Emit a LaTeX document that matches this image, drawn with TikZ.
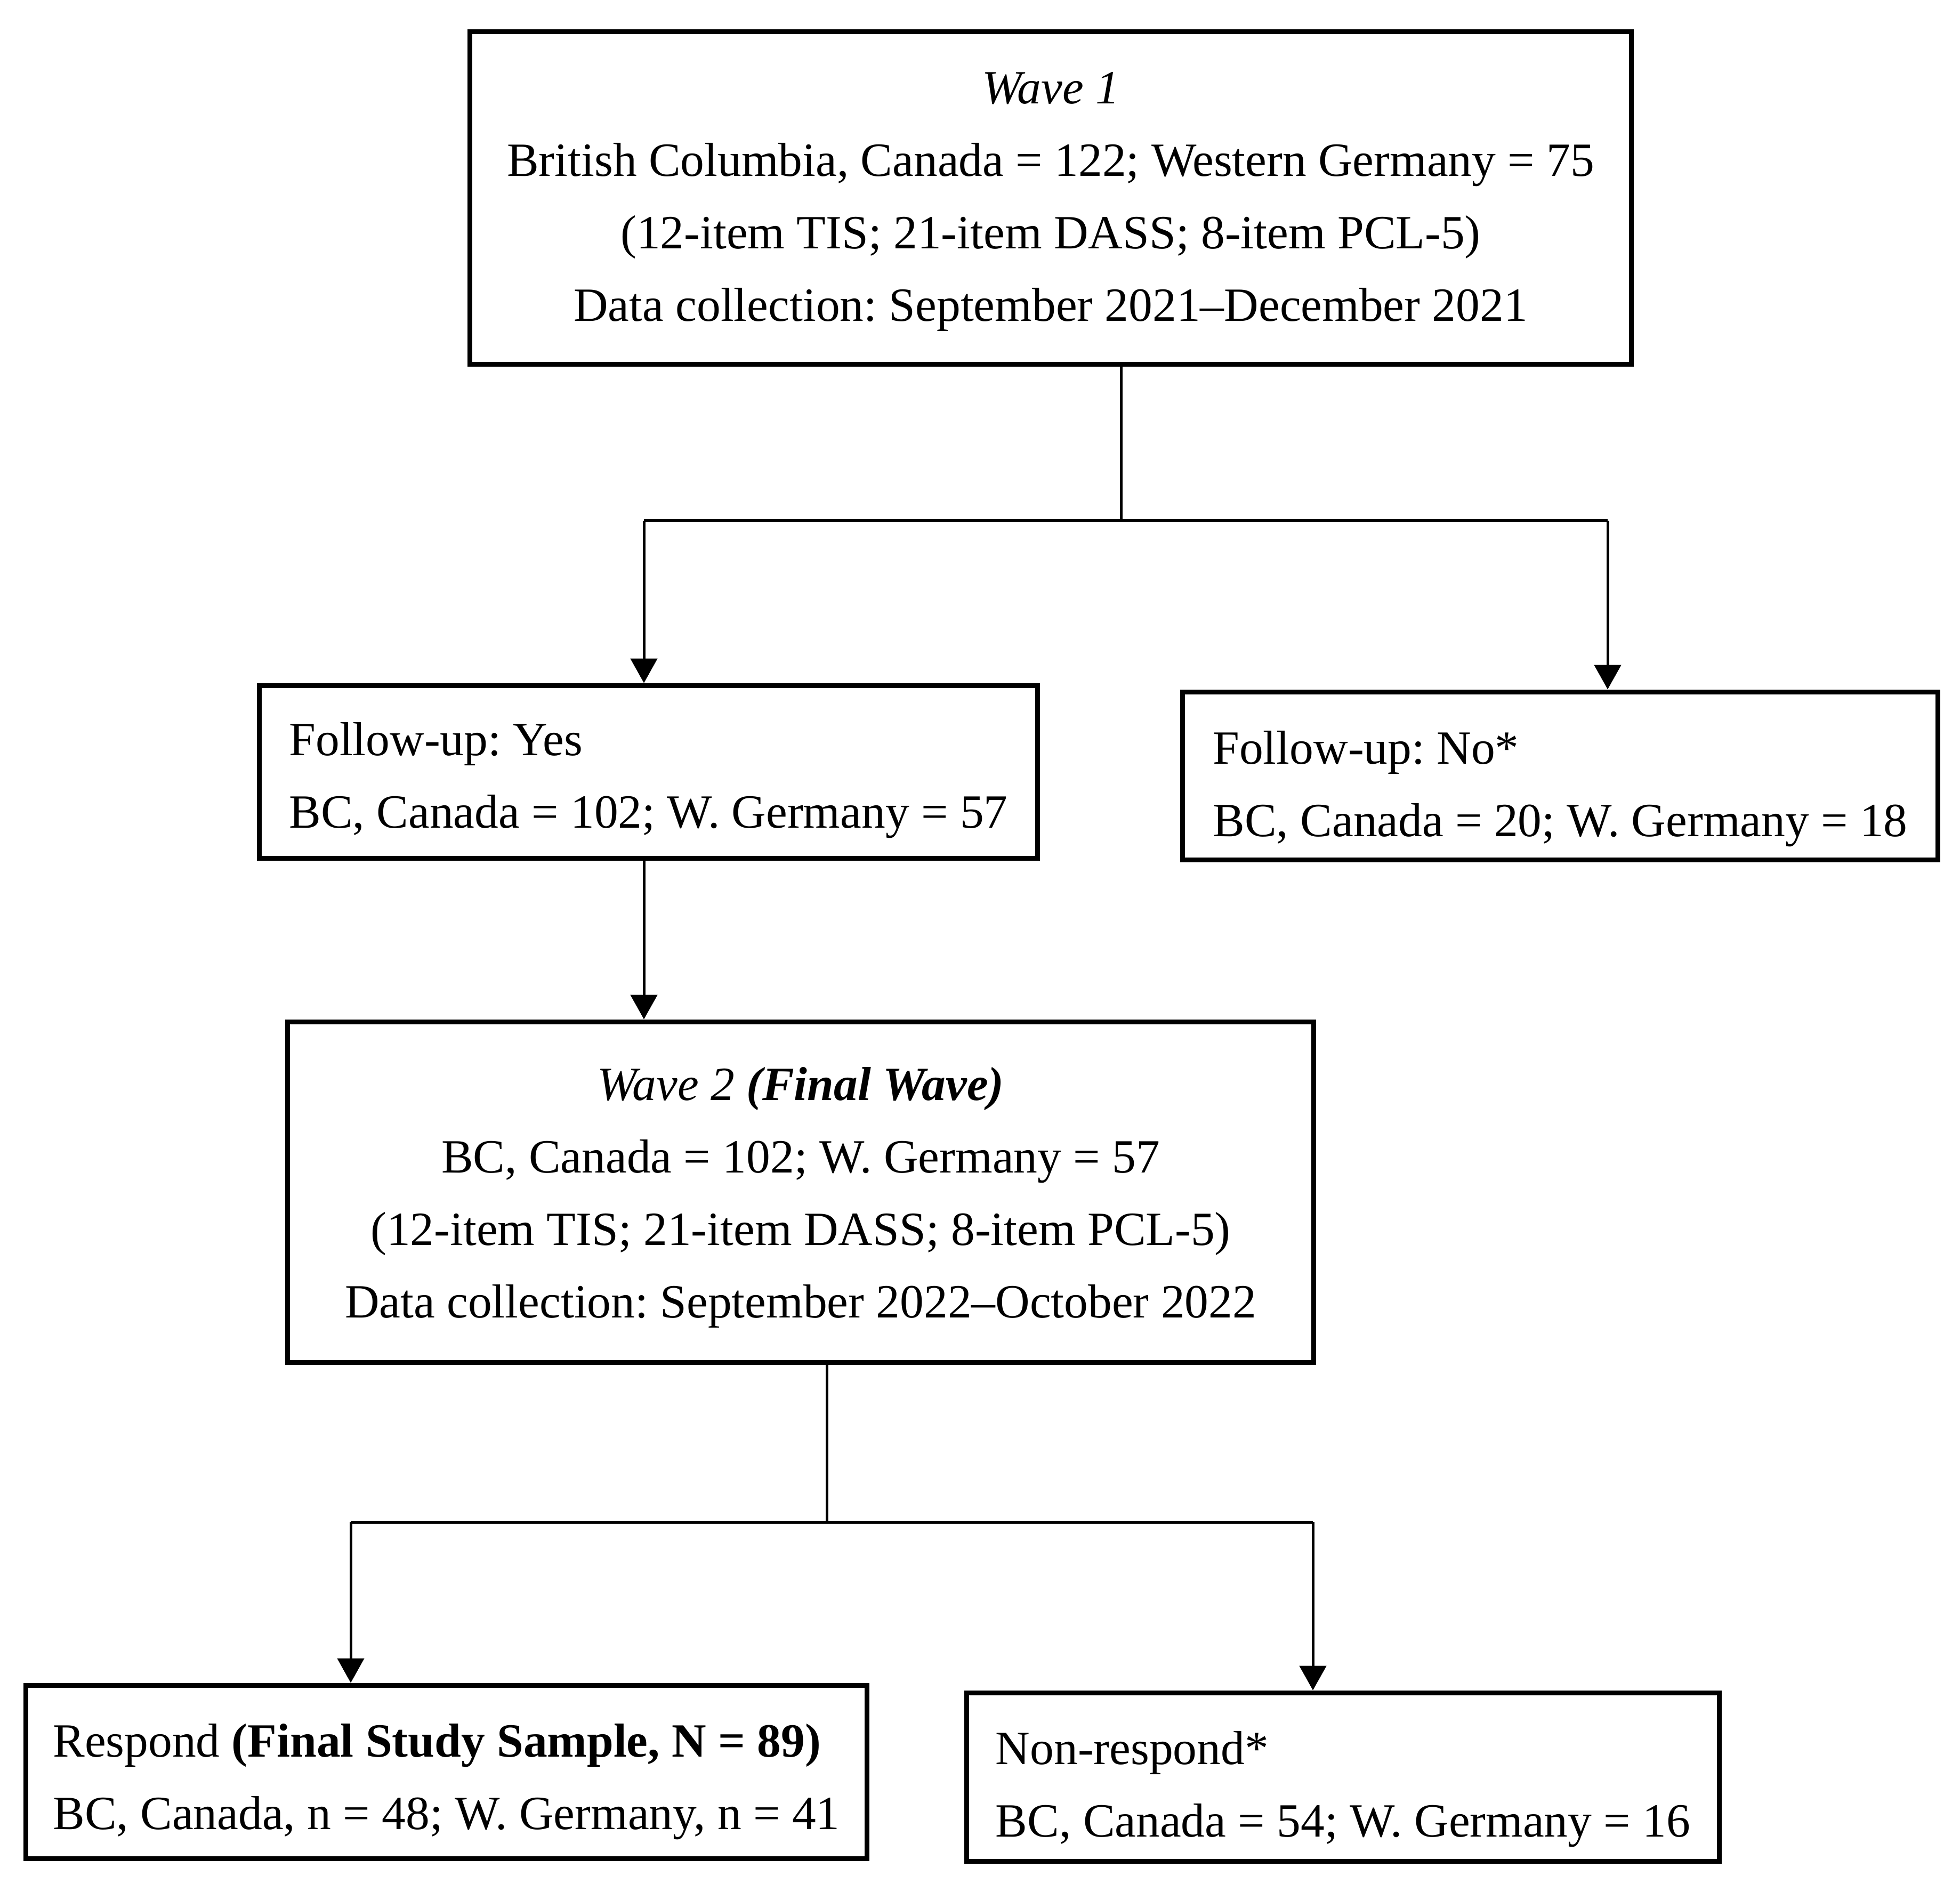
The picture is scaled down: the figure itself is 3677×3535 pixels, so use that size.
\documentclass[tikz,border=0pt]{standalone}
\usepackage{fontspec}
\setmainfont{Liberation Serif}
\usetikzlibrary{arrows.meta}
\newcommand{\tstrut}[1]{\rule{0pt}{\dimexpr0.7\baselineskip+#1\relax}}
\begin{document}
\frenchspacing
\begin{tikzpicture}[x=0.1pt,y=-0.1pt,
  box/.style={draw, line width=0.9pt, rectangle, inner sep=0pt,
    font=\fontsize{8.95}{13.6}\selectfont\frenchspacing},
  cbox/.style={box, align=center},
  lbox/.style={box, align=left},
  conn/.style={line width=0.5pt},
  arr/.style={conn, -{Triangle[length=4.6pt,width=5pt]}}]
\useasboundingbox (0,0) rectangle (3677,3535);
\node[cbox, minimum width=218pt, minimum height=62.5pt] (w1) at (1971,371.5)
  {\tstrut{0pt}\textit{Wave 1}\\
   British Columbia, Canada = 122; Western Germany = 75\\
   (12-item TIS; 21-item DASS; 8-item PCL-5)\\
   Data collection: September 2021–December 2021\strut};
\node[lbox, minimum width=146.1pt, minimum height=32.5pt] (fy) at (1216.5,1448.5)
  {\tstrut{2pt}Follow-up: Yes\\
   BC, Canada = 102; W. Germany = 57\strut};
\node[lbox, minimum width=141.8pt, minimum height=31.6pt] (fn) at (2927,1456)
  {\tstrut{3.6pt}Follow-up: No*\\
   BC, Canada = 20; W. Germany = 18\strut};
\node[cbox, minimum width=192.6pt, minimum height=64pt] (w2) at (1502,2237)
  {\tstrut{0.8pt}\textit{Wave 2 \textbf{(Final Wave)}}\\
   BC, Canada = 102; W. Germany = 57\\
   (12-item TIS; 21-item DASS; 8-item PCL-5)\\
   Data collection: September 2022–October 2022\strut};
\node[lbox, minimum width=157.9pt, minimum height=32.5pt] (resp) at (837.5,3324.5)
  {\tstrut{2.6pt}Respond \textbf{(Final Study Sample, N = 89)}\\
   BC, Canada, n = 48; W. Germany, n = 41\strut};
\node[lbox, minimum width=141.3pt, minimum height=31.6pt] (nonr) at (2519.5,3334)
  {\tstrut{3.5pt}Non-respond*\\
   BC, Canada = 54; W. Germany = 16\strut};
\coordinate (j1) at (2103,977);
\coordinate (jl) at (1208,977);
\coordinate (jr) at (3016,977);
\draw[conn] (w1.south -| j1) -- (j1);
\draw[conn] (jl) -- (jr);
\draw[arr] (jl) -- (jl |- fy.north);
\draw[arr] (jr) -- (jr |- fn.north);
\draw[arr] (fy.south -| jl) -- (jl |- w2.north);
\coordinate (j2) at (1551,2856);
\coordinate (kl) at (658,2856);
\coordinate (kr) at (2463,2856);
\draw[conn] (w2.south -| j2) -- (j2);
\draw[conn] (kl) -- (kr);
\draw[arr] (kl) -- (kl |- resp.north);
\draw[arr] (kr) -- (kr |- nonr.north);
\end{tikzpicture}
\end{document}
